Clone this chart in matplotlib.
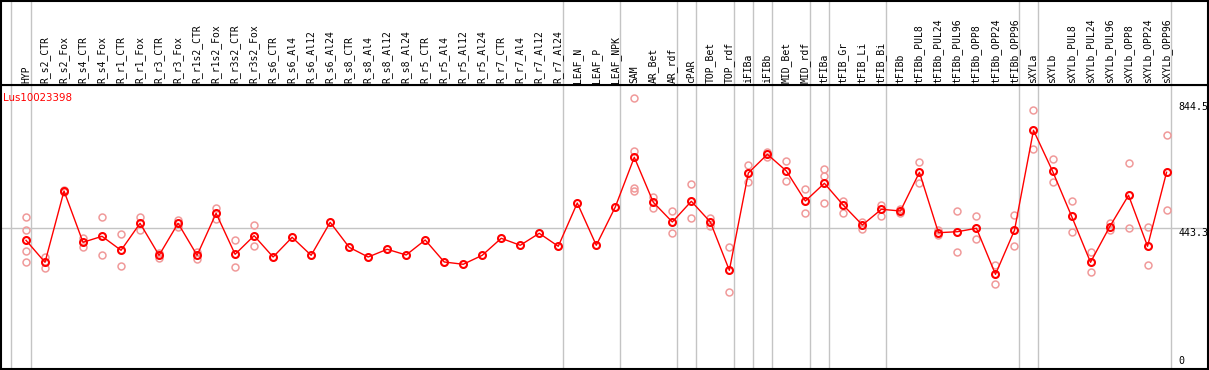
import matplotlib
matplotlib.use("Agg")

import matplotlib.pyplot as plt
from matplotlib.transforms import blended_transform_factory

# ---------------------------------------------------------
# Data
# ---------------------------------------------------------
GENE = "Lus10023398"

samples = [
    "HYP",
    "R_s2_CTR", "R_s2_Fox", "R_s4_CTR", "R_s4_Fox", "R_r1_CTR", "R_r1_Fox",
    "R_r3_CTR", "R_r3_Fox", "R_r1s2_CTR", "R_r1s2_Fox", "R_r3s2_CTR", "R_r3s2_Fox",
    "R_s6_CTR", "R_s6_Al4", "R_s6_Al12", "R_s6_Al24",
    "R_s8_CTR", "R_s8_Al4", "R_s8_Al12", "R_s8_Al24",
    "R_r5_CTR", "R_r5_Al4", "R_r5_Al12", "R_r5_Al24",
    "R_r7_CTR", "R_r7_Al4", "R_r7_Al12", "R_r7_Al24",
    "LEAF_N", "LEAF_P", "LEAF_NPK",
    "SAM", "AR_Bet", "AR_rdf", "cPAR", "TOP_Bet", "TOP_rdf",
    "iFIBa", "iFIBb", "MID_Bet", "MID_rdf",
    "tFIBa", "tFIB_Gr", "tFIB_Li", "tFIB_Bi", "tFIBb",
    "tFIBb_PUL8", "tFIBb_PUL24", "tFIBb_PUL96",
    "tFIBb_OPP8", "tFIBb_OPP24", "tFIBb_OPP96",
    "sXYLa", "sXYLb",
    "sXYLb_PUL8", "sXYLb_PUL24", "sXYLb_PUL96",
    "sXYLb_OPP8", "sXYLb_OPP24", "sXYLb_OPP96",
]

means = [
    405.2,
    335.4, 561.7, 398.9, 417.9, 373.5, 459.2,
    357.6, 459.2, 357.6, 490.9, 360.8, 419.8,
    352.2, 414.7, 357.6, 462.3,
    383.0, 352.2, 376.7, 358.6,
    406.2, 336.4, 329.1, 357.6,
    411.6, 389.4, 427.4, 386.2,
    523.6, 389.4, 510.9,
    668.6, 525.8, 463.3, 529.0, 463.3, 310.0,
    618.8, 678.1, 625.1, 529.9,
    586.1, 516.3, 453.8, 503.6, 498.2,
    621.0, 429.3, 432.5,
    443.3, 297.3, 437.0,
    754.3, 625.1,
    482.3, 335.4, 447.4,
    548.0, 386.2, 621.0,
]

replicates = [
    [478.2, 437.9, 371.3, 335.4],
    [353.2, 318.3], [565.0, 558.0], [411.6, 384.9], [478.2, 357.6], [424.3, 322.7], [478.2, 437.0],
    [364.0, 350.0], [469.6, 448.4], [369.0, 345.9], [507.7, 473.8], [405.2, 320.5], [453.8, 388.1],
    [], [], [], [],
    [], [], [], [],
    [], [], [], [],
    [], [], [], [],
    [], [], [],
    [855.8, 688.6, 572.1, 562.6], [543.6, 507.7], [498.2, 429.3], [582.9, 475.0], [476.0, 450.6], [384.0, 241.2],
    [643.2, 589.3], [685.4, 670.5], [656.9, 593.4], [567.1, 490.9],
    [631.5, 608.3, 522.6], [530.9, 490.9], [464.2, 442.0], [517.2, 481.4], [503.6, 490.9],
    [652.7, 587.0], [437.9, 422.0], [497.2, 369.0],
    [481.4, 408.4], [326.8, 265.6], [484.5, 386.2],
    [817.7, 695.9], [662.3, 589.3],
    [529.0, 430.6], [368.1, 303.7], [459.2, 437.9],
    [649.6, 443.3], [447.4, 325.9], [738.4, 500.4],
]

# group separators sit just right of these sample indices
separators = [-1, 0, 28, 31, 34, 35, 37, 38, 39, 41, 42, 45, 52, 53, 60]

y_ticks = [844.5, 443.3]

C_MEAN = "#ff0000"
C_REP = "#f09a9a"
C_GRID = "#c4c4c4"
W, H = 1209, 370


def main():
    fig = plt.figure(figsize=(W / 100, H / 100), dpi=100)
    fig.patch.set_facecolor("white")

    top_px, sep_px, bot_px = 0.5, 85.0, 368.5
    left_px, right_px = 1.0, 1208.0
    ax = fig.add_axes([left_px / W, (H - bot_px) / H,
                       (right_px - left_px) / W, (bot_px - sep_px) / H])
    hx = fig.add_axes([left_px / W, (H - sep_px) / H,
                       (right_px - left_px) / W, (sep_px - top_px) / H],
                      sharex=ax)

    x = list(range(len(samples)))
    ax.set_xlim(-1.315, 62.18)
    ax.set_ylim(-1.6, 898.0)
    hx.set_ylim(0, 1)

    for a in (ax, hx):
        a.set_xticks([])
        a.set_yticks([])
        for sp in a.spines.values():
            sp.set_color("black")
            sp.set_linewidth(1.5)
        for g in separators:
            a.axvline(g + 0.237, color=C_GRID, lw=1.0, zorder=0)

    ax.axhline(y_ticks[1], color=C_GRID, lw=1.0, zorder=0)

    # replicate values
    for i, reps in enumerate(replicates):
        if reps:
            ax.plot([i] * len(reps), reps, ls="none", marker="o", ms=5.0,
                    mfc="none", mec=C_REP, mew=1.1, zorder=2)

    # mean line
    ax.plot(x, means, color=C_MEAN, lw=1.0, marker="o", ms=5.0,
            mfc="none", mec=C_MEAN, mew=1.5, zorder=3)

    # sample labels in the header strip
    for i, name in enumerate(samples):
        hx.text(i, 0.025, name, rotation=90, ha="center", va="bottom",
                fontsize=7, family="DejaVu Sans Mono", color="black")

    # value labels on the right
    tr = blended_transform_factory(ax.transAxes, ax.transData)
    for v in y_ticks:
        ax.text(0.9755, v, f"{v:.1f}", transform=tr, ha="left", va="top",
                fontsize=7.2, family="DejaVu Sans Mono", color="black")
    ax.text(0.9755, 0.01, "0", transform=ax.transAxes, ha="left", va="bottom",
            fontsize=7.2, family="DejaVu Sans Mono", color="black")

    ax.text(0.0017, 0.973, GENE, transform=ax.transAxes, ha="left", va="top",
            fontsize=7.4, color=C_MEAN)

    fig.savefig("out.png", dpi=100, facecolor="white")


if __name__ == "__main__":
    main()
